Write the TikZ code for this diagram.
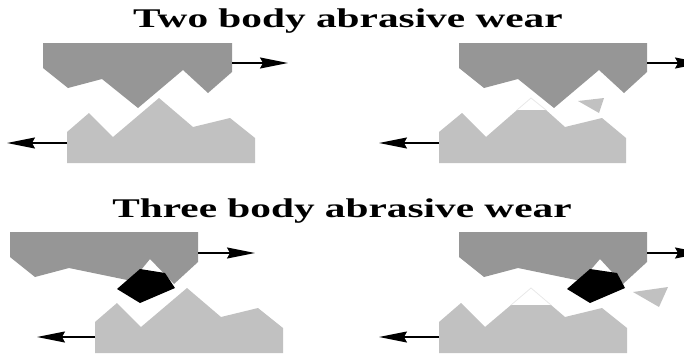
\documentclass[tikz,border=0pt]{standalone}
\usepackage{fontspec}
\setmainfont{Liberation Serif}
\usetikzlibrary{arrows.meta}
\definecolor{upperbody}{RGB}{150,150,150}
\definecolor{lowerbody}{RGB}{193,193,193}
\definecolor{wornline}{RGB}{232,232,232}
\tikzset{
  upper/.style={fill=upperbody, draw=none},
  lower/.style={fill=lowerbody, draw=none},
  grit/.style={fill=black, draw=none},
  debris/.style={fill=lowerbody, draw=none},
  worn/.style={draw=wornline, line width=0.8pt},
  motion/.style={line width=1.1pt, -{Stealth[length=28pt, width=11pt, inset=3pt]}},
  heading/.style={font=\bfseries\fontsize{27}{30}\selectfont, anchor=base, inner sep=0pt}
}
\newcommand{\wide}[1]{\scalebox{1.53}[1]{#1}}
\begin{document}
\begin{tikzpicture}[x=1pt, y=-1pt]
\useasboundingbox (0,0) rectangle (684,356);
\clip (0,0) rectangle (684,356);

% headings
\node[heading] (twobody) at (348,27) {\wide{Two body abrasive wear}};
\node[heading] (threebody) at (342,217) {\wide{Three body abrasive wear}};

% ---- two body, before
\fill[upper] (43,43) -- (43,68) -- (68,88) -- (102,79) -- (138,108) -- (183,70)
  -- (208,93) -- (232,72) -- (232,43) -- cycle;
\fill[lower] (67,163) -- (67,132) -- (89,113) -- (113,137) -- (159,98) -- (193,127)
  -- (230,118) -- (255,138) -- (255,163) -- cycle;
\coordinate (a1) at (232,63); \coordinate (a1e) at (288,63);
\coordinate (b1) at (67,143); \coordinate (b1e) at (7,143);
\draw[motion] (a1) -- (a1e);
\draw[motion] (b1) -- (b1e);

% ---- two body, after
\fill[upper] (459,43) -- (459,68) -- (484,88) -- (518,79) -- (554,108) -- (599,70)
  -- (624,93) -- (647,72) -- (647,43) -- cycle;
\fill[lower] (439,163) -- (439,132) -- (462,113) -- (486,137) -- (517,110) -- (546,110)
  -- (565,127) -- (602,118) -- (626,138) -- (626,163) -- cycle;
\draw[worn] (517,110) -- (531,98) -- (546,110);
\fill[debris] (578,101) -- (604,98) -- (599,113) -- cycle;
\coordinate (a2) at (647,63); \coordinate (a2e) at (703,63);
\coordinate (b2) at (439,143); \coordinate (b2e) at (379,143);
\draw[motion] (a2) -- (a2e);
\draw[motion] (b2) -- (b2e);

% ---- three body, before
\fill[upper] (10,232) -- (10,257) -- (35,277) -- (69,268) -- (132,281) -- (150,259)
  -- (174,284) -- (198,262) -- (198,232) -- cycle;
\fill[lower] (95,353) -- (95,322) -- (117,303) -- (141,327) -- (187,288) -- (221,317)
  -- (258,308) -- (283,328) -- (283,353) -- cycle;
\fill[grit] (117,289) -- (140,269) -- (165,273) -- (175,288) -- (140,303) -- cycle;
\coordinate (a3) at (198,253); \coordinate (a3e) at (255,253);
\coordinate (b3) at (95,337); \coordinate (b3e) at (37,337);
\draw[motion] (a3) -- (a3e);
\draw[motion] (b3) -- (b3e);

% ---- three body, after
\fill[upper] (459,232) -- (459,257) -- (484,277) -- (518,268) -- (581,281) -- (600,259)
  -- (623,284) -- (647,262) -- (647,232) -- cycle;
\fill[lower] (439,353) -- (439,322) -- (461,303) -- (485,327) -- (511,305) -- (551,305)
  -- (565,317) -- (602,308) -- (627,328) -- (627,353) -- cycle;
\draw[worn] (511,305) -- (531,288) -- (551,305);
\fill[grit] (567,289) -- (590,269) -- (617,273) -- (625,288) -- (590,303) -- cycle;
\fill[debris] (633,292) -- (668,287) -- (659,307) -- cycle;
\coordinate (a4) at (647,253); \coordinate (a4e) at (703,253);
\coordinate (b4) at (439,337); \coordinate (b4e) at (379,337);
\draw[motion] (a4) -- (a4e);
\draw[motion] (b4) -- (b4e);
\end{tikzpicture}
\end{document}
